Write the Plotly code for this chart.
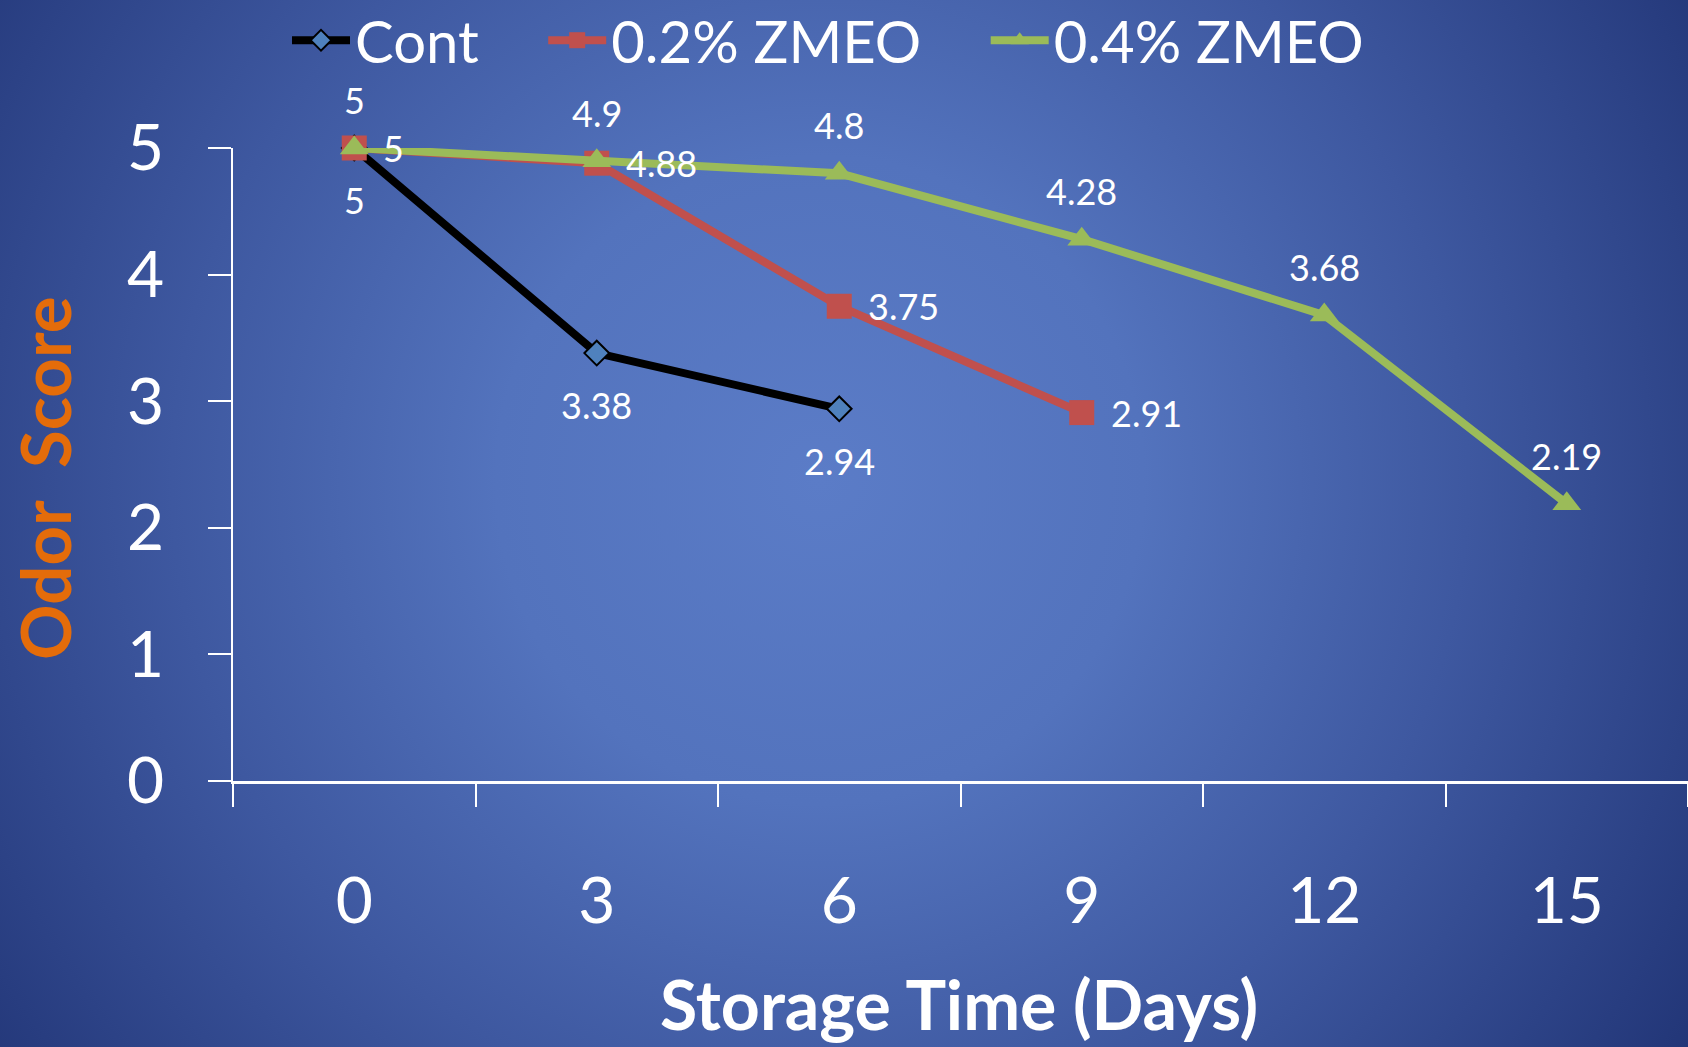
import base64
import plotly.graph_objects as go

# Storage days and odor scores per treatment
days = ["0", "3", "6", "9", "12", "15"]
cont = [5, 3.38, 2.94]
zmeo_02 = [5, 4.88, 3.75, 2.91]
zmeo_04 = [5, 4.9, 4.8, 4.28, 3.68, 2.19]

series_names = ["Cont", "0.2% ZMEO", "0.4% ZMEO"]

W, H = 1688, 1047
ML, MR, MT, MB = 233, 0, 148, 266
PW, PH = W - ML - MR, H - MT - MB

FONT = "Lato"
WHITE = "#FFFFFF"
BLACK_LINE = "#000000"
CONT_FILL = "#4F81BD"
RED = "#C0504D"
GREEN = "#9BBB59"
ORANGE = "#E46C0A"
LEGEND_PAD = "\u00a0" * 4

# radial-gradient backdrop for the whole page
svg = f"""<svg xmlns='http://www.w3.org/2000/svg' width='{W}' height='{H}'>
<defs><radialGradient id='g' gradientUnits='userSpaceOnUse' cx='820' cy='480' r='1080'>
<stop offset='0' stop-color='#5B7CC7'/>
<stop offset='0.3' stop-color='#5373BD'/>
<stop offset='0.6' stop-color='#3E58A0'/>
<stop offset='1' stop-color='#1F3273'/>
</radialGradient></defs>
<rect width='{W}' height='{H}' fill='url(#g)'/></svg>"""
bg_uri = "data:image/svg+xml;base64," + base64.b64encode(svg.encode()).decode()

fig = go.Figure()

fig.add_trace(go.Scatter(
    x=days[:len(cont)], y=cont, name=series_names[0] + LEGEND_PAD, mode="lines+markers",
    line=dict(color=BLACK_LINE, width=8),
    marker=dict(symbol="diamond", size=19, color=CONT_FILL,
                line=dict(color=BLACK_LINE, width=2)),
    cliponaxis=False,
))
fig.add_trace(go.Scatter(
    x=days[:len(zmeo_02)], y=zmeo_02, name=series_names[1] + LEGEND_PAD, mode="lines+markers",
    line=dict(color=RED, width=8),
    marker=dict(symbol="square", size=25, color=RED),
    cliponaxis=False,
))
fig.add_trace(go.Scatter(
    x=days[:len(zmeo_04)], y=zmeo_04, name=series_names[2], mode="lines+markers",
    line=dict(color=GREEN, width=8),
    marker=dict(symbol="triangle-up", size=25, color=GREEN),
    cliponaxis=False,
))

# value labels: control below, 0.2% to the right, 0.4% above
label_font = dict(family=FONT, size=36, color=WHITE)
annotations = []
for ys, kind in ((cont, "below"), (zmeo_02, "right"), (zmeo_04, "above")):
    for i, yv in enumerate(ys):
        a = dict(x=i, y=yv, xref="x", yref="y", text=f"{yv:g}", showarrow=False,
                 font=label_font, yanchor="middle")
        if kind == "below":
            a.update(xanchor="center", yshift=-52)
        elif kind == "above":
            a.update(xanchor="center", yshift=48)
        else:
            a.update(xanchor="left", xshift=27)
        annotations.append(a)

# axis titles
annotations.append(dict(
    text="<b>Storage Time (Days)</b>", xref="paper", yref="paper",
    x=(959 - ML) / PW, y=(MT + PH - 1004) / PH, xanchor="center", yanchor="middle",
    showarrow=False, font=dict(family=FONT, size=68, color=WHITE),
))
annotations.append(dict(
    text="<b>Odor\u00a0\u00a0Score</b>", xref="paper", yref="paper",
    x=(44 - ML) / PW, y=(MT + PH - 478) / PH, xanchor="center", yanchor="middle",
    textangle=-90, showarrow=False, font=dict(family=FONT, size=69, color=ORANGE),
))

fig.update_layout(
    width=W, height=H,
    margin=dict(l=ML, r=MR, t=MT, b=MB, pad=0, autoexpand=False),
    paper_bgcolor="#2A3F85",
    plot_bgcolor="rgba(0,0,0,0)",
    font=dict(family=FONT, color=WHITE),
    showlegend=True,
    legend=dict(
        orientation="h", x=(287 - ML) / PW, xanchor="left",
        y=1 + (MT + 4) / PH, yanchor="top",
        bgcolor="rgba(0,0,0,0)", font=dict(family=FONT, size=58, color=WHITE),
        itemsizing="trace", itemwidth=58, tracegroupgap=0,
    ),
    annotations=annotations,
    images=[dict(
        source=bg_uri, xref="paper", yref="paper",
        x=-ML / PW, y=1 + MT / PH, sizex=W / PW, sizey=H / PH,
        xanchor="left", yanchor="top", sizing="stretch", layer="below",
    )],
)

fig.update_xaxes(
    type="category", categoryorder="array", categoryarray=days,
    range=[-0.5, 5.5], tickson="boundaries", ticks="outside", ticklen=23,
    tickwidth=2, tickcolor=WHITE, showline=True, linecolor=WHITE, linewidth=3,
    showgrid=False, zeroline=False, ticklabelstandoff=62,
    tickfont=dict(family=FONT, size=64, color=WHITE),
)
fig.update_yaxes(
    range=[0, 5], dtick=1, ticks="outside", ticklen=23, tickwidth=2,
    tickcolor=WHITE, showline=True, linecolor=WHITE, linewidth=2,
    showgrid=False, zeroline=False, ticklabelstandoff=31,
    tickfont=dict(family=FONT, size=64, color=WHITE),
)

fig.write_html("out.html")
